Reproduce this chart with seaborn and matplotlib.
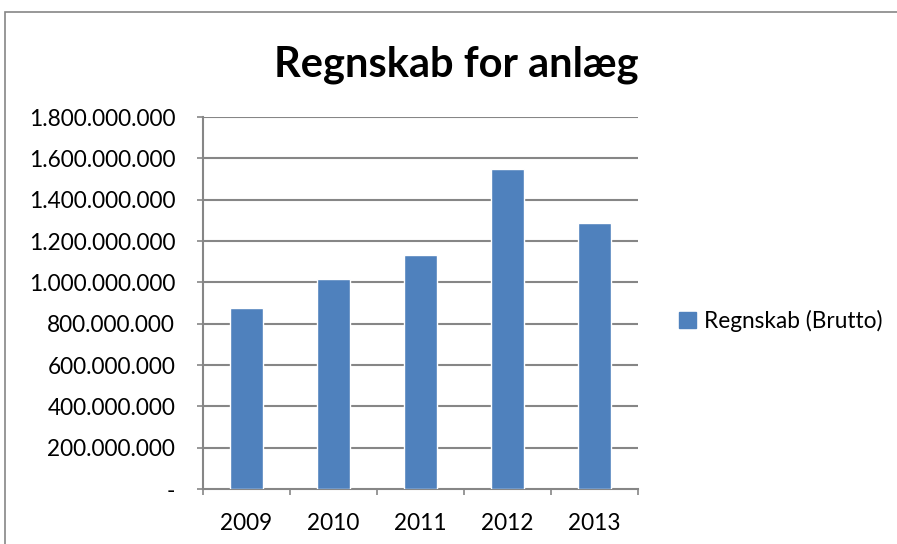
import matplotlib.pyplot as plt
import matplotlib.patches as mpatches
import seaborn as sns
import numpy as np

years = ['2009', '2010', '2011', '2012', '2013']
brutto = [876000000, 1016000000, 1132000000, 1548000000, 1287000000]
series_name = 'Regnskab (Brutto)'
yticks = [0, 200000000, 400000000, 600000000, 800000000, 1000000000,
          1200000000, 1400000000, 1600000000, 1800000000]

sns.set_style('white')
plt.rcParams['font.family'] = ['Lato', 'DejaVu Sans']
plt.rcParams['text.color'] = 'black'
plt.rcParams['xtick.labelcolor'] = 'black'
plt.rcParams['ytick.labelcolor'] = 'black'

bar_color = '#4F81BD'
grid_color = '#868686'
fs = 16.3

fig = plt.figure(figsize=(8.97, 5.44), dpi=100)
ax = fig.add_axes([0.2263, 0.1011, 0.4850, 0.6838])

sns.barplot(x=years, y=brutto, color=bar_color, width=0.39,
            saturation=1, ax=ax, zorder=3)

ax.set_ylim(0, 1800000000)
ax.set_xlim(-0.5, 4.5)
ax.set_yticks(yticks)


def fmt(v):
    if v == 0:
        return '-'
    return f'{v:,.0f}'.replace(',', '.')


ax.set_yticklabels([fmt(v) for v in yticks], fontsize=fs)
ax.set_xticks(range(len(years)))
ax.set_xticklabels(years, fontsize=fs)
ax.set_xticks(np.arange(-0.5, 5, 1), minor=True)
ax.tick_params(axis='x', which='major', bottom=True, length=0, pad=17)
ax.tick_params(axis='x', which='minor', bottom=True, length=4, width=1.2,
               color=grid_color, direction='out')
ax.tick_params(axis='y', left=True, length=4, width=1.2, color=grid_color,
               pad=16)
ax.set_xlabel('')
ax.set_ylabel('')

for y in yticks[1:]:
    ax.axhline(y, color=grid_color, lw=1.5, zorder=1)

for s in ['top', 'right']:
    ax.spines[s].set_visible(False)
for s in ['left', 'bottom']:
    ax.spines[s].set_color(grid_color)
    ax.spines[s].set_linewidth(1.5)

fig.text(0.509, 1 - 77 / 544, 'Regnskab for anlæg', ha='center',
         va='baseline', fontsize=30, fontweight='bold')

handle = mpatches.Patch(color=bar_color, label=series_name)
fig.legend(handles=[handle], loc='center left', bbox_to_anchor=(0.757, 0.41),
           frameon=False, fontsize=fs, handlelength=0.75, handleheight=0.75,
           handletextpad=0.35, borderaxespad=0, borderpad=0)

border = mpatches.Rectangle((5 / 897, -0.05), 1.2, 1.05 - 12 / 544,
                            transform=fig.transFigure, fill=False,
                            edgecolor=grid_color, lw=1.2)
fig.patches.append(border)

fig.savefig('out.png', dpi=100)
